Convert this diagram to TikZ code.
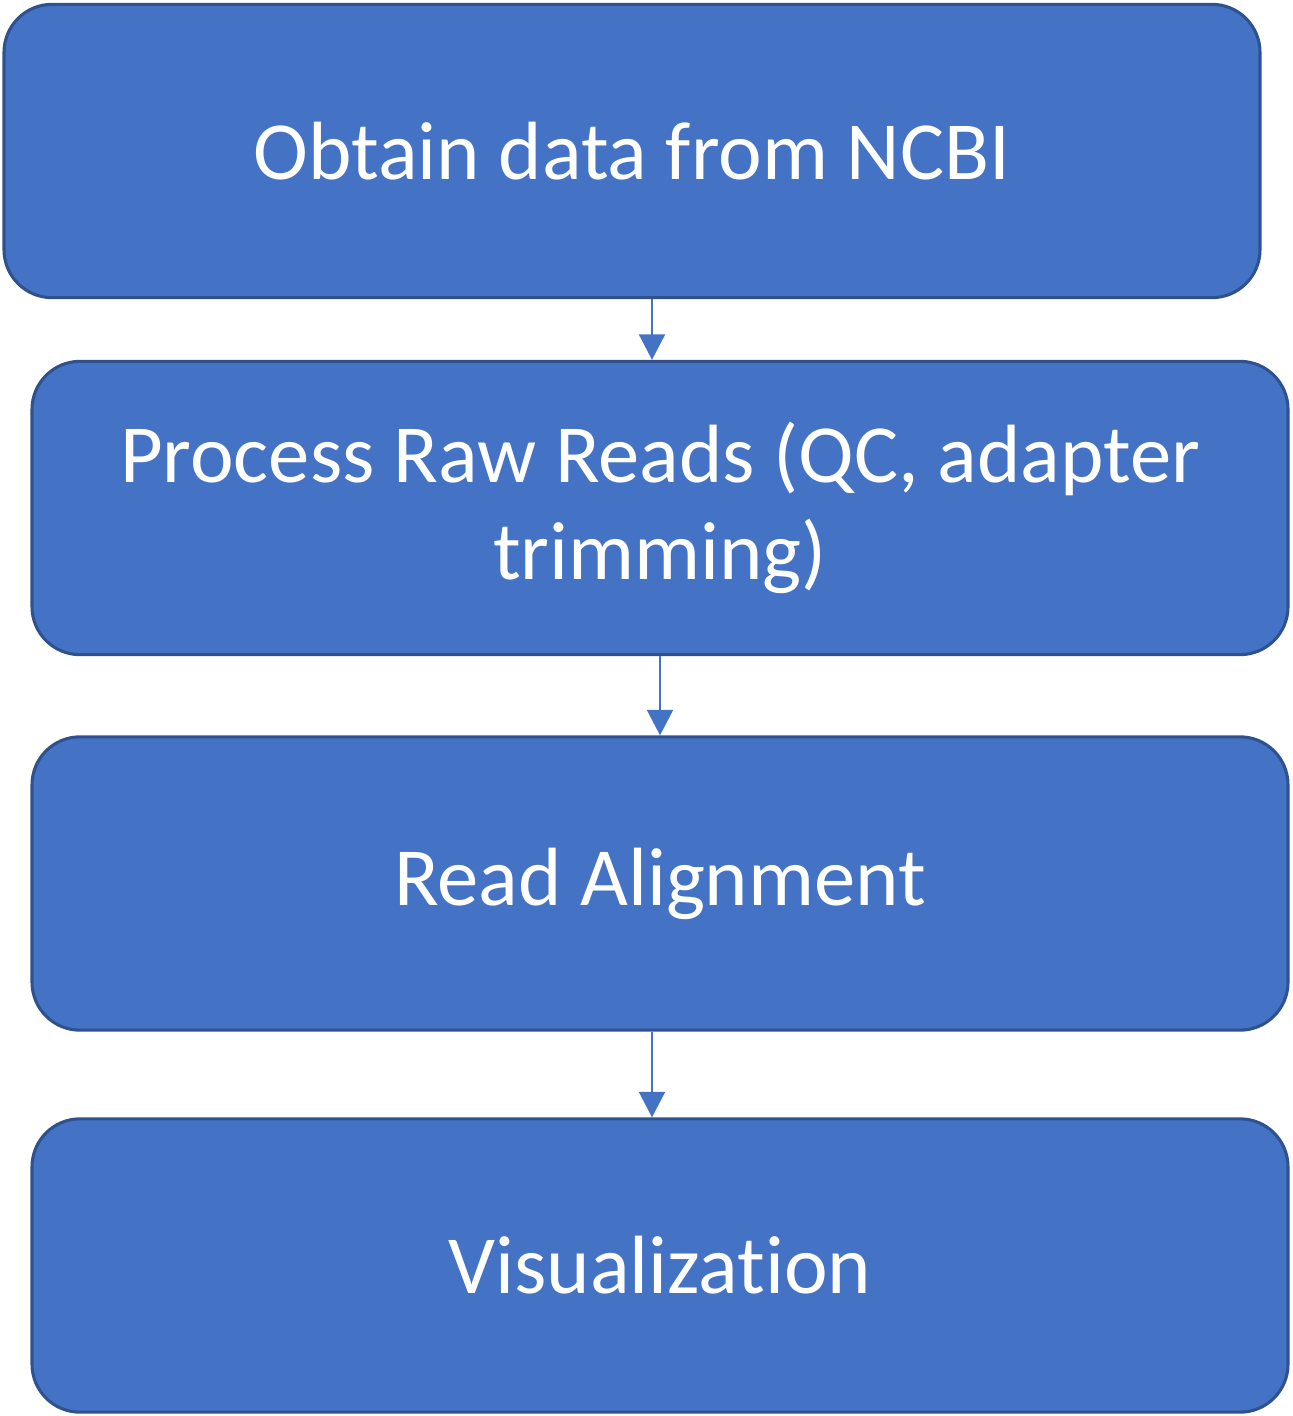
\documentclass[tikz,border=0pt]{standalone}
\usepackage{fontspec}
\setmainfont[Ligatures=NoCommon]{Carlito}
\usepackage{tikz}
\usetikzlibrary{arrows.meta,positioning}
\definecolor{boxblue}{HTML}{4472C4}
\definecolor{boxedge}{HTML}{2F528F}
\tikzstyle{arrow} = [draw=boxblue,line width=1.2pt,-{Triangle[width=19.5pt,length=19pt]}]

\begin{document}
\begin{tikzpicture}[x=0.75pt,y=-0.75pt]
                \tikzstyle{stage}=[draw=boxedge,fill=boxblue,line width=2.3pt,rounded corners=36pt,minimum width=942pt,minimum height=220pt,text=white,font=\fontsize{62}{73}\selectfont,align=center]

                \useasboundingbox (0,0) rectangle (1292,1416);
                \node [stage] (obtain) at (632,151) {Obtain data from NCBI};
                \node [stage] (process) at (660,508)
                {Process Raw Reads (QC, adapter\\trimming)};
                \node [stage] (align) at (660,883.5) {Read Alignment};
                \node [stage] (visual) at (660,1265.5) {Visualization};
                \draw [arrow] ([xshift=-6pt]process.north |- obtain.south) -- ([xshift=-6pt]process.north);
                \draw [arrow] (process.south) -- (align.north);
                \draw [arrow] ([xshift=-6pt]visual.north |- align.south) -- ([xshift=-6pt]visual.north);
            \end{tikzpicture}
\end{document}
